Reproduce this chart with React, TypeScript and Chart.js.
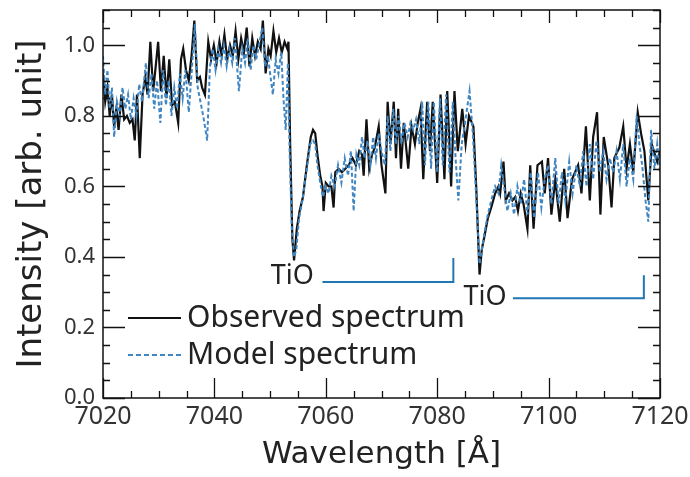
import React, { useEffect, useRef } from 'react';
import { Chart, registerables } from 'chart.js';

Chart.register(...registerables);

// ---------- data ----------
const obsWave = [
  7020.0, 7020.4, 7020.8, 7021.2, 7021.6, 7022.0, 7022.4, 7022.8, 7023.3, 7023.8,
  7024.3, 7024.8, 7025.3, 7025.7, 7026.1, 7026.6, 7027.1, 7027.6, 7028.0, 7028.5,
  7029.0, 7029.4, 7029.9, 7030.4, 7030.9, 7031.4, 7031.9, 7032.4, 7032.9, 7033.5,
  7034.0, 7034.4, 7034.9, 7035.4, 7035.9, 7036.4, 7036.9, 7037.4, 7037.8, 7038.3,
  7038.9, 7039.4, 7039.9, 7040.4, 7040.9, 7041.3, 7041.8, 7042.3, 7042.8, 7043.3,
  7043.8, 7044.3, 7044.8, 7045.3, 7045.8, 7046.3, 7046.8, 7047.3, 7047.8, 7048.3,
  7048.7, 7049.2, 7049.7, 7050.1, 7050.6, 7051.1, 7051.6, 7052.1, 7052.6, 7053.1,
  7053.3, 7053.6, 7054.0, 7054.3, 7054.8, 7055.3, 7055.9, 7056.6, 7057.3, 7057.7,
  7058.1, 7058.5, 7059.0, 7059.4, 7059.6, 7060.0, 7060.5, 7061.0, 7061.4, 7061.7,
  7062.3, 7062.9, 7063.5, 7064.1, 7064.8, 7065.4, 7066.0, 7066.5, 7066.8, 7067.3,
  7067.8, 7068.3, 7068.8, 7069.5, 7070.0, 7070.7, 7071.1, 7071.6, 7072.2, 7072.6,
  7073.0, 7073.5, 7074.0, 7074.8, 7075.4, 7076.0, 7076.5, 7077.0, 7077.5, 7078.2,
  7078.7, 7079.2, 7080.0, 7080.6, 7081.3, 7081.8, 7082.5, 7083.1, 7083.7, 7084.5,
  7085.1, 7085.7, 7086.5, 7087.0, 7087.6, 7088.0, 7088.5, 7089.1, 7089.7, 7090.4,
  7091.0, 7091.3, 7091.9, 7092.3, 7092.9, 7093.5, 7094.0, 7094.5, 7095.0, 7095.5,
  7096.2, 7096.7, 7097.3, 7098.0, 7098.8, 7099.3, 7099.9, 7100.5, 7101.2, 7102.0,
  7102.8, 7103.4, 7104.2, 7105.3, 7105.9, 7106.7, 7107.4, 7108.0, 7108.7, 7109.3,
  7109.9, 7110.7, 7111.3, 7111.8, 7112.7, 7113.4, 7114.0, 7114.6, 7115.2, 7116.0,
  7116.6, 7117.2, 7117.9, 7118.5, 7119.5, 7120.0,
];
const obsFlux = [
  0.92, 0.84, 0.88, 0.80, 0.86, 0.77, 0.82, 0.76, 0.86, 0.79,
  0.80, 0.78, 0.79, 0.73, 0.86, 0.68, 0.86, 0.91, 0.86, 1.01,
  0.87, 0.93, 1.01, 0.87, 0.97, 0.85, 0.96, 0.83, 0.84, 0.78,
  0.96, 0.99, 0.93, 0.90, 0.97, 1.07, 0.90, 0.91, 0.88, 0.86,
  1.01, 0.96, 1.00, 0.95, 1.01, 0.97, 1.03, 0.96, 1.00, 0.97,
  1.04, 0.96, 1.02, 0.98, 1.05, 0.94, 1.02, 0.97, 1.01, 0.99,
  1.07, 0.92, 0.99, 0.97, 1.04, 0.98, 1.02, 0.98, 1.01, 0.99,
  1.01, 0.72, 0.45, 0.39, 0.48, 0.53, 0.57, 0.66, 0.74, 0.76,
  0.75, 0.69, 0.63, 0.60, 0.53, 0.61, 0.60, 0.60, 0.54, 0.64,
  0.65, 0.64, 0.65, 0.66, 0.68, 0.66, 0.70, 0.69, 0.63, 0.79,
  0.65, 0.69, 0.71, 0.77, 0.66, 0.58, 0.84, 0.72, 0.84, 0.68,
  0.82, 0.65, 0.78, 0.65, 0.77, 0.72, 0.78, 0.82, 0.62, 0.84,
  0.70, 0.84, 0.61, 0.86, 0.62, 0.87, 0.60, 0.87, 0.70, 0.82,
  0.72, 0.80, 0.77, 0.60, 0.35, 0.42, 0.46, 0.51, 0.54, 0.58,
  0.60, 0.58, 0.67, 0.56, 0.58, 0.56, 0.57, 0.53, 0.58, 0.55,
  0.48, 0.66, 0.48, 0.66, 0.67, 0.58, 0.68, 0.52, 0.62, 0.50,
  0.65, 0.51, 0.62, 0.66, 0.58, 0.77, 0.56, 0.74, 0.81, 0.52,
  0.74, 0.66, 0.54, 0.68, 0.71, 0.77, 0.65, 0.72, 0.64, 0.81,
  0.75, 0.70, 0.56, 0.72, 0.67, 0.70,
];

const modelWave = [
  7020.0, 7020.4, 7020.8, 7021.2, 7021.6, 7022.0, 7022.5, 7023.0, 7023.5, 7024.0,
  7024.5, 7025.0, 7025.5, 7026.0, 7026.5, 7027.0, 7027.7, 7028.2, 7028.7, 7029.2,
  7029.7, 7030.3, 7030.8, 7031.3, 7031.8, 7032.3, 7032.8, 7033.3, 7033.8, 7034.3,
  7034.8, 7035.4, 7035.9, 7036.5, 7037.0, 7037.5, 7038.1, 7038.7, 7039.2, 7039.7,
  7040.2, 7040.7, 7041.2, 7041.7, 7042.2, 7042.7, 7043.2, 7043.7, 7044.4, 7045.0,
  7045.5, 7046.0, 7046.5, 7047.0, 7047.5, 7048.0, 7048.6, 7049.1, 7049.6, 7050.0,
  7050.5, 7051.0, 7051.5, 7052.0, 7052.4, 7052.8, 7053.2, 7053.5, 7053.9, 7054.3,
  7054.7, 7055.2, 7055.8, 7056.5, 7057.2, 7057.7, 7058.1, 7058.5, 7059.0, 7059.5,
  7060.0, 7060.5, 7061.0, 7061.6, 7062.2, 7062.8, 7063.4, 7064.0, 7064.5, 7065.0,
  7065.5, 7066.0, 7066.5, 7067.0, 7067.5, 7068.0, 7068.5, 7069.0, 7069.5, 7070.0,
  7070.6, 7071.1, 7071.6, 7072.1, 7072.6, 7073.1, 7073.6, 7074.1, 7074.7, 7075.2,
  7075.7, 7076.2, 7076.8, 7077.3, 7077.8, 7078.4, 7078.9, 7079.4, 7080.0, 7080.5,
  7081.0, 7081.6, 7082.2, 7082.8, 7083.3, 7083.8, 7084.4, 7085.0, 7085.8, 7086.4,
  7086.9, 7087.6, 7088.0, 7088.5, 7089.1, 7089.7, 7090.4, 7091.0, 7091.5, 7092.0,
  7092.6, 7093.2, 7093.8, 7094.4, 7095.0, 7095.6, 7096.2, 7096.8, 7097.4, 7098.1,
  7098.7, 7099.3, 7099.9, 7100.5, 7101.2, 7101.8, 7102.4, 7103.0, 7103.7, 7104.3,
  7105.0, 7105.6, 7106.2, 7106.8, 7107.4, 7108.0, 7108.6, 7109.2, 7109.8, 7110.4,
  7111.0, 7111.6, 7112.2, 7112.8, 7113.4, 7114.0, 7114.6, 7115.2, 7115.8, 7116.3,
  7116.8, 7117.4, 7117.9, 7118.4, 7119.0, 7119.5, 7120.0,
];
const modelFlux = [
  0.97, 0.86, 0.93, 0.82, 0.88, 0.74, 0.84, 0.80, 0.88, 0.82,
  0.86, 0.79, 0.85, 0.80, 0.89, 0.84, 0.95, 0.85, 0.92, 0.82,
  0.90, 0.78, 0.93, 0.83, 0.90, 0.80, 0.88, 0.82, 0.92, 0.85,
  0.93, 0.81, 0.92, 1.06, 0.88, 0.84, 0.79, 0.73, 0.94, 0.99,
  0.93, 0.99, 0.95, 1.00, 0.94, 0.99, 0.95, 1.02, 0.87, 0.99,
  0.95, 1.02, 0.93, 1.00, 0.96, 1.00, 1.05, 0.94, 0.97, 0.92,
  0.86, 0.96, 0.92, 0.98, 0.85, 0.76, 0.95, 0.70, 0.48, 0.40,
  0.42, 0.51, 0.56, 0.64, 0.72, 0.73, 0.72, 0.66, 0.61, 0.57,
  0.60, 0.58, 0.63, 0.60, 0.66, 0.61, 0.68, 0.63, 0.70, 0.53,
  0.69, 0.66, 0.74, 0.68, 0.73, 0.66, 0.74, 0.68, 0.75, 0.70,
  0.66, 0.80, 0.70, 0.82, 0.72, 0.80, 0.72, 0.78, 0.74, 0.78,
  0.76, 0.79, 0.72, 0.84, 0.66, 0.84, 0.65, 0.84, 0.64, 0.85,
  0.66, 0.86, 0.64, 0.84, 0.68, 0.56, 0.72, 0.78, 0.87, 0.75,
  0.60, 0.38, 0.42, 0.47, 0.52, 0.56, 0.60, 0.58, 0.66, 0.60,
  0.53, 0.58, 0.52, 0.60, 0.55, 0.62, 0.52, 0.64, 0.51, 0.64,
  0.54, 0.62, 0.66, 0.55, 0.68, 0.55, 0.64, 0.56, 0.67, 0.58,
  0.66, 0.60, 0.70, 0.60, 0.72, 0.62, 0.73, 0.64, 0.70, 0.62,
  0.68, 0.64, 0.70, 0.62, 0.72, 0.60, 0.68, 0.62, 0.80, 0.72,
  0.66, 0.56, 0.50, 0.76, 0.65, 0.72, 0.64,
];

const seriesLabels = ['Observed spectrum', 'Model spectrum'];
const xTickValues = [7020, 7040, 7060, 7080, 7100, 7120];
const yTickValues = [0.0, 0.2, 0.4, 0.6, 0.8, 1.0];

// TiO band annotations
const tioLabels = ['TiO', 'TiO'];
const tioTextX = [7054.0, 7088.6];
const tioTextY = [0.346, 0.286];
const tioStartX = [7059.4, 7093.6];
const tioEndX = [7082.9, 7117.1];
const tioLineY = [0.329, 0.283];
const tioTopY = [0.397, 0.348];

const OBS_COLOR = '#111111';
const MODEL_COLOR = '#3f86c2';
const TIO_COLOR = '#2077b4';

const framePlugin = {
  id: 'frameTicks',
  afterDraw(chart: any) {
    const { ctx, chartArea, scales } = chart;
    const xs = scales.x;
    const ys = scales.y;
    const { left, right, top, bottom } = chartArea;
    ctx.save();
    ctx.strokeStyle = '#111';
    ctx.lineWidth = 1.5;
    ctx.strokeRect(left, top, right - left, bottom - top);
    ctx.lineWidth = 1.3;
    ctx.beginPath();
    for (let v = xs.min; v <= xs.max + 1e-6; v += 5) {
      const p = Math.round(xs.getPixelForValue(v)) + 0.5;
      const major = Math.abs(v % 20) < 1e-6;
      const len = major ? 20 : 7;
      ctx.moveTo(p, bottom);
      ctx.lineTo(p, bottom - len);
      ctx.moveTo(p, top);
      ctx.lineTo(p, top + (major ? 13 : 7));
    }
    for (let i = 0; i * 0.05 <= ys.max + 1e-6; i++) {
      const v = i * 0.05;
      const p = Math.round(ys.getPixelForValue(v)) + 0.5;
      const major = i % 4 === 0;
      const len = major ? 22 : 7;
      ctx.moveTo(left, p);
      ctx.lineTo(left + len, p);
      ctx.moveTo(right, p);
      ctx.lineTo(right - len, p);
    }
    ctx.stroke();

    // legend (inside plot area)
    const rows = [
      { label: chart.data.datasets[1].label, color: OBS_COLOR, dash: [] as number[] },
      { label: chart.data.datasets[0].label, color: MODEL_COLOR, dash: [5, 3] },
    ];
    const lx1 = left + 25;
    const lx2 = left + 78;
    const tx = left + 84;
    const rowY = [top + 308, top + 345];
    ctx.font = '30px "Noto Sans", sans-serif';
    ctx.textBaseline = 'middle';
    ctx.textAlign = 'left';
    rows.forEach((r, i) => {
      ctx.beginPath();
      ctx.setLineDash(r.dash);
      ctx.strokeStyle = r.color;
      ctx.lineWidth = 2;
      ctx.moveTo(lx1, rowY[i]);
      ctx.lineTo(lx2, rowY[i]);
      ctx.stroke();
      ctx.setLineDash([]);
      ctx.fillStyle = '#222';
      ctx.fillText(r.label, tx, rowY[i]);
    });
    ctx.restore();
  },
  afterDatasetsDraw(chart: any) {
    const { ctx, scales } = chart;
    const xs = scales.x;
    const ys = scales.y;
    ctx.save();
    ctx.strokeStyle = TIO_COLOR;
    ctx.lineWidth = 2;
    for (let i = 0; i < tioLabels.length; i++) {
      const x1 = xs.getPixelForValue(tioStartX[i]);
      const x2 = xs.getPixelForValue(tioEndX[i]);
      const y = ys.getPixelForValue(tioLineY[i]);
      const yt = ys.getPixelForValue(tioTopY[i]);
      ctx.beginPath();
      ctx.moveTo(x1, y);
      ctx.lineTo(x2, y);
      ctx.lineTo(x2, yt);
      ctx.stroke();
      ctx.fillStyle = '#222';
      ctx.font = '27px "Noto Sans", sans-serif';
      ctx.textAlign = 'center';
      ctx.textBaseline = 'middle';
      ctx.fillText(tioLabels[i], xs.getPixelForValue(tioTextX[i]), ys.getPixelForValue(tioTextY[i]));
    }
    ctx.restore();
  },
};

export default function App() {
  const canvasRef = useRef<HTMLCanvasElement | null>(null);

  useEffect(() => {
    const canvas = canvasRef.current;
    if (!canvas) return;
    const chart = new Chart(canvas, {
      type: 'line',
      data: {
        datasets: [
          {
            label: seriesLabels[1],
            data: modelWave.map((x, i) => ({ x, y: modelFlux[i] })),
            borderColor: MODEL_COLOR,
            borderWidth: 2,
            borderDash: [4, 2.5],
            pointRadius: 0,
            tension: 0,
            fill: false,
            order: 1,
          },
          {
            label: seriesLabels[0],
            data: obsWave.map((x, i) => ({ x, y: obsFlux[i] })),
            borderColor: OBS_COLOR,
            borderWidth: 2.2,
            pointRadius: 0,
            tension: 0,
            fill: false,
            order: 2,
          },
        ],
      },
      options: {
        responsive: false,
        animation: false,
        devicePixelRatio: 1,
        layout: { padding: { top: 10, right: 30, left: 0, bottom: 0 } },
        plugins: { legend: { display: false }, tooltip: { enabled: false } },
        scales: {
          x: {
            type: 'linear',
            min: 7020,
            max: 7120,
            afterFit: (s: any) => {
              s.height = 79;
              s.paddingLeft = 0;
              s.paddingRight = 0;
            },
            afterBuildTicks: (s: any) => {
              s.ticks = xTickValues.map((v) => ({ value: v }));
            },
            grid: { display: false, drawTicks: false },
            border: { display: false },
            ticks: {
              autoSkip: false,
              maxRotation: 0,
              padding: 4,
              color: '#333',
              font: { family: '"Noto Sans", sans-serif', size: 25 },
              callback: (v: any) => String(v),
            },
            title: {
              display: true,
              text: 'Wavelength [Å]',
              color: '#222',
              font: { family: '"DejaVu Sans", sans-serif', size: 31 },
              padding: { top: 0, bottom: 3 },
            },
          },
          y: {
            type: 'linear',
            min: 0,
            max: 1.1,
            afterFit: (s: any) => {
              s.width = 103;
              s.paddingTop = 0;
              s.paddingBottom = 0;
            },
            afterBuildTicks: (s: any) => {
              s.ticks = yTickValues.map((v) => ({ value: v }));
            },
            grid: { display: false, drawTicks: false },
            border: { display: false },
            ticks: {
              autoSkip: false,
              padding: 8,
              color: '#333',
              font: { family: '"Noto Sans", sans-serif', size: 22 },
              callback: (v: any) => Number(v).toFixed(1),
            },
            title: {
              display: true,
              text: 'Intensity [arb. unit]',
              color: '#222',
              font: { family: '"DejaVu Sans", sans-serif', size: 34 },
              padding: { top: 12, bottom: 0 },
            },
          },
        },
      },
      plugins: [framePlugin],
    });
    return () => chart.destroy();
  }, []);

  return (
    <div style={{ position: 'absolute', left: 0, top: 0, width: 690, height: 477, background: '#fff' }}>
      <canvas ref={canvasRef} width={690} height={477} style={{ display: 'block' }} />
    </div>
  );
}
